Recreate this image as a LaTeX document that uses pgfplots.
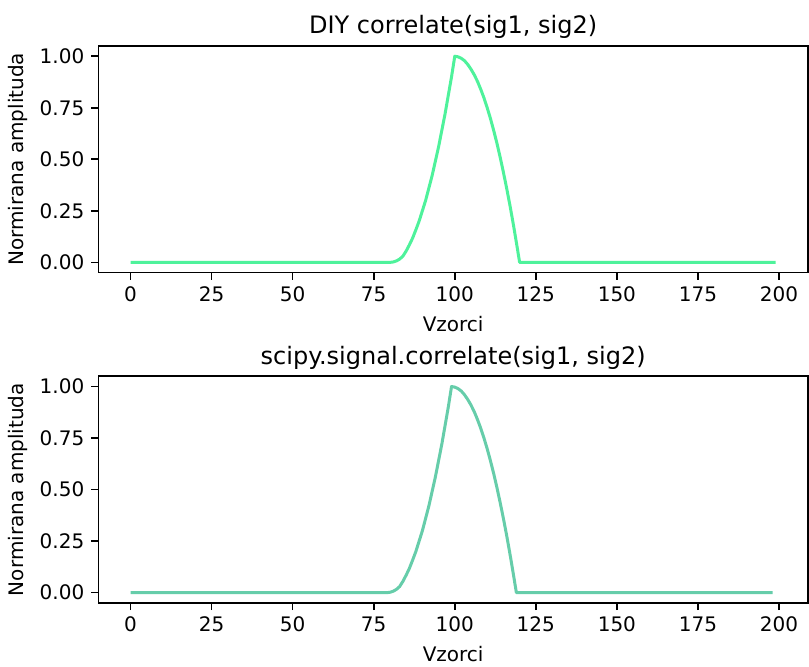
\documentclass[border=0pt]{standalone}
\usepackage{fontspec}
\setmainfont{DejaVu Sans}
\usepackage{pgfplots}
\pgfplotsset{compat=1.18}
\definecolor{diygreen}{RGB}{78,242,155}
\definecolor{scipyteal}{RGB}{102,205,170}

\pgfplotsset{
  corr/.style={
    scale only axis,
    width=354.85pt, height=113.4pt,
    xmin=-9.95, xmax=208.95,
    ymin=-0.05, ymax=1.05,
    xtick={0,25,...,200},
    ytick={0,0.25,0.5,0.75,1},
    yticklabel style={/pgf/number format/.cd, fixed, fixed zerofill, precision=2},
    /pgf/number format/assume math mode=true,
    tick align=outside,
    major tick length=3.5pt,
    tick style={black, line width=0.8pt},
    axis line style={line width=0.8pt},
    xtick pos=bottom, ytick pos=left,
    ticklabel style={font=\fontsize{10}{12}\selectfont},
    label style={font=\fontsize{10}{12}\selectfont},
    every axis title/.style={at={(axis description cs:0.5,1)}, anchor=base, yshift=6pt,
      font=\fontsize{12}{14}\selectfont},
    every axis x label/.style={at={(axis description cs:0.5,0)}, anchor=base, yshift=-29.5pt},
    every axis y label/.style={at={(axis description cs:0,0.5)}, xshift=-37.5pt, rotate=90, anchor=base},
    xlabel={Vzorci},
    ylabel={Normirana amplituda},
  }
}

\begin{document}
\begin{tikzpicture}
\useasboundingbox (0,0) rectangle (404.5pt,-333.5pt);

% DIY korelacija
\begin{axis}[corr, at={(49.15pt,-136.35pt)}, anchor=south west,
  title={DIY correlate(sig1, sig2)}]
\addplot[diygreen, line width=1.5pt, line join=round] coordinates {
  (0,0) (80,0) (81,0.002) (82,0.007) (83,0.016) (84,0.03) (85,0.055)
  (86,0.085) (87,0.118) (88,0.158) (89,0.2) (90,0.25) (91,0.3)
  (92,0.36) (93,0.42) (94,0.49) (95,0.56) (96,0.64) (97,0.72)
  (98,0.81) (99,0.9) (100,1)
  (101,0.997) (102,0.99) (103,0.978) (104,0.96) (105,0.937) (106,0.91)
  (107,0.878) (108,0.84) (109,0.798) (110,0.75) (111,0.698) (112,0.64)
  (113,0.578) (114,0.51) (115,0.437) (116,0.36) (117,0.278) (118,0.19)
  (119,0.097) (120,0) (199,0)
};
\end{axis}

% scipy korelacija
\begin{axis}[corr, at={(49.15pt,-301.5pt)}, anchor=south west,
  title={scipy.signal.correlate(sig1, sig2)}]
\addplot[scipyteal, line width=1.5pt, line join=round] coordinates {
  (0,0) (79,0) (80,0.002) (81,0.007) (82,0.016) (83,0.03) (84,0.055)
  (85,0.085) (86,0.118) (87,0.158) (88,0.2) (89,0.25) (90,0.3)
  (91,0.36) (92,0.42) (93,0.49) (94,0.56) (95,0.64) (96,0.72)
  (97,0.81) (98,0.9) (99,1)
  (100,0.997) (101,0.99) (102,0.978) (103,0.96) (104,0.937) (105,0.91)
  (106,0.878) (107,0.84) (108,0.798) (109,0.75) (110,0.698) (111,0.64)
  (112,0.578) (113,0.51) (114,0.437) (115,0.36) (116,0.278) (117,0.19)
  (118,0.097) (119,0) (198,0)
};
\end{axis}
\end{tikzpicture}
\end{document}
